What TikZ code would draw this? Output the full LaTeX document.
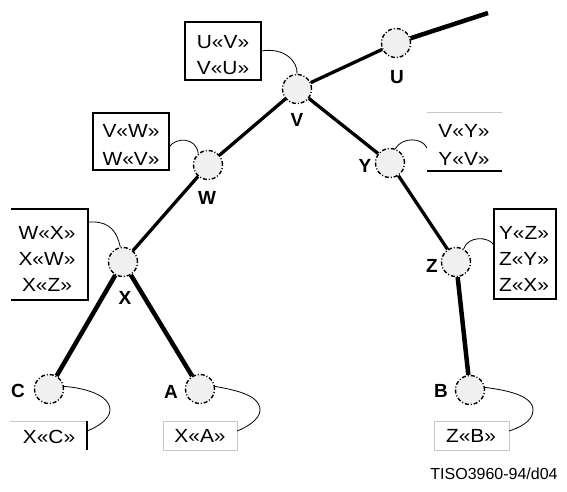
\documentclass[tikz,border=0pt]{standalone}
\usepackage{fontspec}
\setmainfont{Liberation Sans}
\newfontfamily\boxfont[FakeStretch=1.1]{Liberation Sans}
\definecolor{nodegray}{HTML}{F0F0F0}
\definecolor{boxgray}{HTML}{C8C8C8}
\begin{document}
\begin{tikzpicture}[x=1pt,y=-1pt,
  vert/.style={circle,draw=black,fill=nodegray,minimum size=29pt,inner sep=0pt,line width=1.4pt,dash pattern=on 4pt off 2pt on 1pt off 2pt},
  edge/.style={line width=3.3pt},
  heavy/.style={line width=4.5pt},
  lbl/.style={font=\fontsize{19}{19}\selectfont\bfseries,inner sep=0pt},
  btxt/.style={font=\boxfont\fontsize{19}{19}\selectfont,inner sep=0pt},
  conn/.style={line width=0.8pt},
  bbox/.style={line width=1.6pt},
  gbox/.style={draw=boxgray,line width=0.9pt},
]
\useasboundingbox (0,0) rectangle (567,491);
% vertices
\node[vert] (U) at (396,43) {};
\node[vert] (V) at (297,89) {};
\node[vert] (W) at (208,165) {};
\node[vert] (X) at (123,262) {};
\node[vert] (Y) at (390,163) {};
\node[vert] (Z) at (456,262) {};
\node[vert] (C) at (49,389) {};
\node[vert] (A) at (200,389) {};
\node[vert] (B) at (470,390) {};
\coordinate (Uend) at (488,13);
% labels
\node[lbl] (lU) at (397,77) {U};
\node[lbl] (lV) at (297,120) {V};
\node[lbl] (lW) at (207,198) {W};
\node[lbl] (lX) at (125,298) {X};
\node[lbl] (lY) at (365,166) {Y};
\node[lbl] (lZ) at (432,266) {Z};
\node[lbl] (lC) at (18,391) {C};
\node[lbl] (lA) at (171,392) {A};
\node[lbl] (lB) at (441,391) {B};
% edges
\draw[heavy] (U) -- (Uend);
\draw[edge] (U) -- (V);
\draw[edge] (V) -- (W);
\draw[edge] (W) -- (X);
\draw[edge] (V) -- (Y);
\draw[edge] (Y) -- (Z);
\draw[heavy] (X) -- (C);
\draw[heavy] (X) -- (A);
\draw[heavy] (Z) -- (B);
% boxes
\draw[bbox] (185,22) rectangle (261,80);
\node[btxt] (t1) at (223,42) {U«V»};
\node[btxt] (t2) at (223,68) {V«U»};
\draw[bbox] (93,113) rectangle (169,170);
\node[btxt] (t3) at (131,131) {V«W»};
\node[btxt] (t4) at (131,159) {W«V»};
\draw[gbox] (427,112) -- (502,112);
\draw[bbox] (427,171) -- (502,171);
\node[btxt] (t5) at (464,131) {V«Y»};
\node[btxt] (t6) at (464,159) {Y«V»};
\draw[bbox] (11,209) -- (88,209) -- (88,300) -- (11,300);
\node[btxt] (t7) at (47,233) {W«X»};
\node[btxt] (t8) at (47,259) {X«W»};
\node[btxt] (t9) at (47,285) {X«Z»};
\draw[bbox] (494,209) rectangle (556,299);
\node[btxt] (t10) at (524,233) {Y«Z»};
\node[btxt] (t11) at (524,259) {Z«Y»};
\node[btxt] (t12) at (524,285) {Z«X»};
\draw[gbox] (10,421) -- (87,421);
\draw[bbox] (87,421) -- (87,450);
\node[btxt] (t13) at (49,437) {X«C»};
\draw[gbox] (163,421) rectangle (237,450);
\node[btxt] (t14) at (200,436) {X«A»};
\draw[gbox] (434,421) rectangle (509,450);
\node[btxt] (t15) at (471,436) {Z«B»};
% connectors
\draw[conn] (261,51) .. controls (285,47) and (298,62) .. (V.north);
\draw[conn] (169,147) .. controls (176,137) and (196,137) .. (W.130);
\draw[conn] (Y.70) .. controls (402,137) and (422,137) .. (427,148);
\draw[conn] (88,222) -- (93,222) .. controls (110,222) and (117,232) .. (X.100);
\draw[conn] (Z.60) .. controls (468,236) and (488,236) .. (494,245);
\draw[conn] (C.10) .. controls (85,388) and (110,395) .. (110,410) .. controls (110,420) and (95,428) .. (87,431);
\draw[conn] (A.10) .. controls (235,390) and (260,395) .. (260,410) .. controls (260,420) and (245,428) .. (237,431);
\draw[conn] (B.10) .. controls (505,390) and (533,395) .. (533,410) .. controls (533,422) and (518,428) .. (509,431);
% footer
\node[font=\fontsize{16}{16}\selectfont,inner sep=0pt] (foot) at (494,474) {TISO3960-94/d04};
\end{tikzpicture}
\end{document}
